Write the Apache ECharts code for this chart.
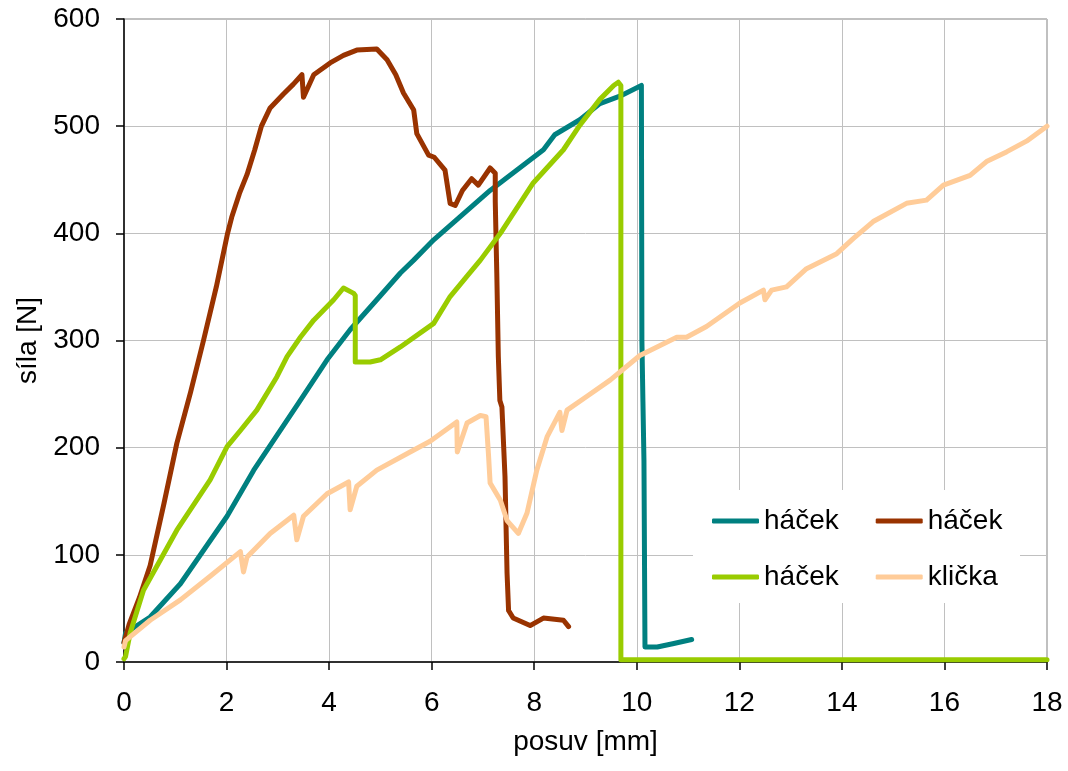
<!DOCTYPE html>
<html><head><meta charset="utf-8">
<script src="https://cdn.jsdelivr.net/npm/echarts/dist/echarts.min.js"></script>
<style>html,body{margin:0;padding:0;background:#fff}#c{width:1068px;height:771px}</style>
</head><body><div id="c"></div><script>
// x ticks / y ticks
const xTicks = {min: 0, max: 18, step: 2};
const yTicks = {min: 0, max: 600, step: 100};
const seriesNames = ['s1', 's2', 's3', 's4'];
const legendLabels = {s1: 'háček', s2: 'háček', s3: 'háček', s4: 'klička'};
const seriesColors = ['#008080', '#993300', '#99CC00', '#FFCC99'];

// [posuv mm, síla N]
const hacek1 = [[0,18],[0.03,27],[0.51,42],[1.10,73],[2.01,136],[2.53,179],[3.38,240],[3.96,282],[4.41,310],[4.93,338],[5.39,363],[5.65,375],[6.04,394],[7.14,440],[8.18,478],[8.4,492],[8.89,506],[9.28,521],[9.67,528],[10.05,537],[10.09,538],[10.10,300],[10.12,243],[10.14,188],[10.16,14],[10.4,14],[10.7,17],[11.07,21]];
const hacek2 = [[0,18],[0.1,35],[0.3,60],[0.51,90],[0.78,148],[1.03,204],[1.3,252],[1.55,300],[1.80,350],[2.02,400],[2.1,415],[2.25,437],[2.40,455],[2.55,478],[2.68,500],[2.85,517],[3.11,530],[3.3,539],[3.47,548],[3.50,527],[3.70,548],[4.02,559],[4.28,566],[4.54,571],[4.93,572],[5.13,562],[5.3,548],[5.45,531],[5.65,515],[5.71,493],[5.94,473],[6.05,471],[6.26,459],[6.36,428],[6.46,426],[6.6,440],[6.78,451],[6.91,445],[7.14,461],[7.24,456],[7.24,430],[7.27,363],[7.30,285],[7.33,244],[7.37,238],[7.43,173],[7.47,83],[7.50,48],[7.59,41],[7.92,34],[8.18,41],[8.57,39],[8.67,33]];
const hacek3 = [[0,3],[0.03,5],[0.12,27],[0.38,67],[1.03,123],[1.68,170],[2.01,201],[2.27,216],[2.59,235],[2.98,266],[3.18,285],[3.44,303],[3.70,319],[4.09,338],[4.28,349],[4.48,344],[4.51,342],[4.51,280],[4.80,280],[5.0,282],[5.39,294],[6.04,316],[6.36,341],[6.69,360],[6.95,375],[7.34,400],[7.98,447],[8.57,478],[8.89,501],[9.28,525],[9.55,538],[9.64,541],[9.69,538],[9.69,2],[18,2]];
const klicka = [[0,14],[0.03,20],[0.51,39],[1.10,58],[1.68,80],[2.27,103],[2.33,84],[2.40,98],[2.85,120],[3.31,137],[3.37,114],[3.50,136],[3.96,157],[4.38,168],[4.41,142],[4.54,164],[4.93,179],[5.58,196],[5.97,206],[6.49,224],[6.50,196],[6.69,223],[6.95,230],[7.06,229],[7.11,192],[7.14,167],[7.34,151],[7.47,132],[7.69,120],[7.86,139],[8.05,179],[8.25,210],[8.50,233],[8.54,216],[8.64,235],[9.03,248],[9.48,263],[10.06,286],[10.78,303],[10.97,303],[11.36,313],[12.01,335],[12.47,347],[12.50,338],[12.63,347],[12.92,350],[13.31,367],[13.90,381],[14.22,395],[14.61,411],[15.26,428],[15.65,431],[15.98,445],[16.50,454],[16.82,467],[17.21,476],[17.60,486],[18.0,500]];
const seriesData = [hacek1, hacek2, hacek3, klicka];

const FONT = 'Liberation Sans, Arial, sans-serif';
const chart = echarts.init(document.getElementById('c'), null, {renderer: 'canvas'});
const legendBase = {
  orient: 'horizontal', left: 712, itemWidth: 47, itemHeight: 5, icon: 'roundRect',
  itemGap: 37, padding: 0, selectedMode: false, z: 10,
  textStyle: {fontSize: 28, color: '#000', fontFamily: FONT},
  formatter: n => legendLabels[n]
};
chart.setOption({
  animation: false,
  backgroundColor: '#fff',
  grid: {left: 124, right: 21, top: 19, bottom: 109, show: true, borderColor: '#808080', borderWidth: 1},
  graphic: [{type: 'rect', left: 693, top: 490, shape: {width: 327, height: 113}, style: {fill: '#fff'}, z: 3}],
  legend: [
    Object.assign({}, legendBase, {data: [seriesNames[0], seriesNames[1]], top: 507}),
    Object.assign({}, legendBase, {data: [seriesNames[2], seriesNames[3]], top: 563})
  ],
  xAxis: {
    type: 'value', min: xTicks.min, max: xTicks.max, interval: xTicks.step,
    name: 'posuv [mm]', nameLocation: 'middle', nameGap: 66,
    nameTextStyle: {fontSize: 28, color: '#000', fontFamily: FONT},
    axisLine: {show: true, onZero: false, lineStyle: {color: '#000', width: 1.5}},
    axisTick: {show: true, length: 8, lineStyle: {color: '#000', width: 1.5}},
    axisLabel: {fontSize: 28, color: '#000', fontFamily: FONT, margin: 27},
    splitLine: {show: true, lineStyle: {color: '#c0c0c0', width: 1}}
  },
  yAxis: {
    type: 'value', min: yTicks.min, max: yTicks.max, interval: yTicks.step,
    name: 'síla [N]', nameLocation: 'middle', nameGap: 70, nameRotate: 90,
    nameTextStyle: {fontSize: 28, color: '#000', fontFamily: FONT},
    axisLine: {show: true, onZero: false, lineStyle: {color: '#000', width: 1.5}},
    axisTick: {show: true, length: 8, lineStyle: {color: '#000', width: 1.5}},
    axisLabel: {fontSize: 28, color: '#000', fontFamily: FONT, margin: 24},
    splitLine: {show: true, lineStyle: {color: '#c0c0c0', width: 1}}
  },
  series: seriesNames.map((n, i) => ({
    name: n, type: 'line', data: seriesData[i], showSymbol: false, symbol: 'none',
    color: seriesColors[i], lineStyle: {width: 5, color: seriesColors[i], join: 'round', cap: 'round'},
    z: 2 + i * 0.01
  }))
});
</script></body></html>
